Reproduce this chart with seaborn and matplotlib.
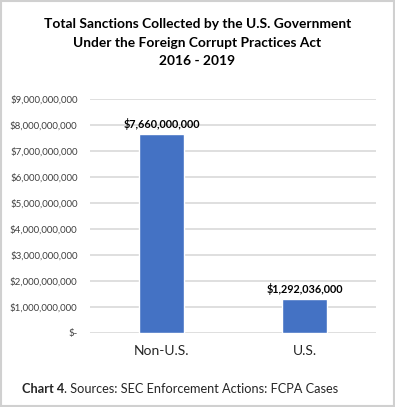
import matplotlib
matplotlib.use("Agg")
import matplotlib.pyplot as plt
import seaborn as sns
import pandas as pd

# chart data
categories = ["Non-U.S.", "U.S."]
sanctions = [7660000000, 1292036000]
value_labels = ["$7,660,000,000", "$1,292,036,000"]
tick_values = [0, 1e9, 2e9, 3e9, 4e9, 5e9, 6e9, 7e9, 8e9, 9e9]
tick_labels = ["$-", "$1,000,000,000", "$2,000,000,000", "$3,000,000,000",
               "$4,000,000,000", "$5,000,000,000", "$6,000,000,000",
               "$7,000,000,000", "$8,000,000,000", "$9,000,000,000"]

df = pd.DataFrame({"Origin": categories, "Sanctions": sanctions})

sns.set_style("white")
plt.rcParams["font.family"] = ["Lato", "DejaVu Sans"]

fig = plt.figure(figsize=(3.95, 4.07), dpi=100)
ax = fig.add_axes([0.228, 0.182, 0.724, 0.575])

sns.barplot(data=df, x="Origin", y="Sanctions", color="#4472C4",
            width=0.31, saturation=1, ax=ax, zorder=3)

ax.set_ylim(0, 9e9)
ax.set_yticks(tick_values)
ax.set_yticklabels(tick_labels, fontsize=7.0, color="#404040")
ax.yaxis.grid(True, color="#D9D9D9", linewidth=1.2, zorder=0)
ax.set_axisbelow(True)
ax.tick_params(axis="y", length=0, pad=9)
ax.tick_params(axis="x", length=0, pad=9, labelsize=10, labelcolor="#262626")
ax.set_xlabel("")
ax.set_ylabel("")
for s in ax.spines.values():
    s.set_visible(False)

for i, (v, lab) in enumerate(zip(sanctions, value_labels)):
    ax.text(i, v + 1.6e8, lab, ha="center", va="bottom", fontsize=7.8,
            fontweight="bold", color="#000000")

fig.text(0.5, 0.895, "Total Sanctions Collected by the U.S. Government\n"
         "Under the Foreign Corrupt Practices Act\n2016 - 2019",
         ha="center", va="center", fontsize=9.9, fontweight="bold",
         linespacing=1.65, color="#000000")

t1 = fig.text(0.056, 0.044, "Chart 4", ha="left", va="center", fontsize=9.2,
              fontweight="bold")
fig.canvas.draw()
bb = t1.get_window_extent().transformed(fig.transFigure.inverted())
fig.text(bb.x1, 0.044, ". Sources: SEC Enforcement Actions: FCPA Cases",
         ha="left", va="center", fontsize=9.2)

# light frame around the picture
fig.patches.append(plt.Rectangle((0.002, 0.002), 0.996, 0.996, transform=fig.transFigure,
                                 fill=False, edgecolor="#D0D0D0", linewidth=1.5))

fig.savefig("out.png", dpi=100, facecolor="white")
